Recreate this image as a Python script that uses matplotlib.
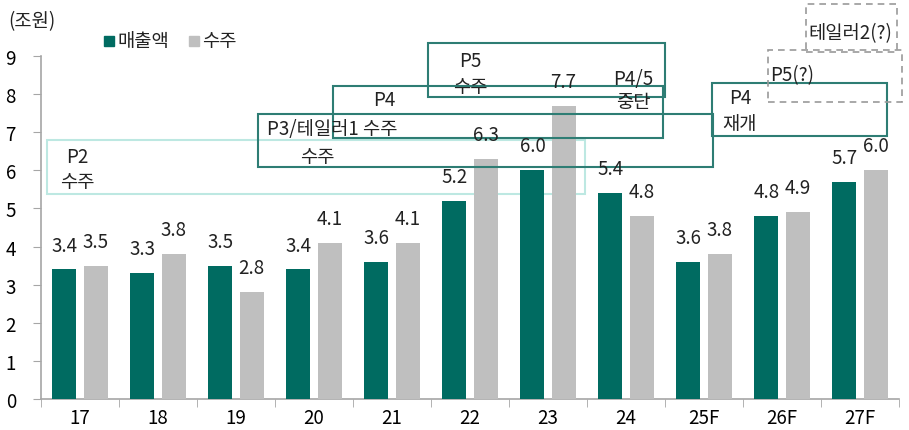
import numpy as np
import matplotlib.pyplot as plt
from matplotlib.patches import Rectangle

plt.rcParams['font.family'] = ['Noto Sans CJK KR', 'DejaVu Sans']

years = ['17', '18', '19', '20', '21', '22', '23', '24', '25F', '26F', '27F']
sales = [3.4, 3.3, 3.5, 3.4, 3.6, 5.2, 6.0, 5.4, 3.6, 4.8, 5.7]
orders = [3.5, 3.8, 2.8, 4.1, 4.1, 6.3, 7.7, 4.8, 3.8, 4.9, 6.0]

GREEN = '#006b61'
GRAY = '#bfbfbf'
TEAL = '#2e7d74'
AXIS = '#a6a6a6'
FS = 13.5

fig = plt.figure(figsize=(9.09, 4.31), dpi=100)
ax = fig.add_axes([41/909, 31/431, 858/909, 343/431])

x = np.arange(len(years))
w = 0.31
b1 = ax.bar(x - 0.2, sales, w, color=GREEN, zorder=3)
b2 = ax.bar(x + 0.2, orders, w, color=GRAY, zorder=3)

for bars, vals in ((b1, sales), (b2, orders)):
    for r, v in zip(bars, vals):
        ax.annotate(f'{v:.1f}', (r.get_x() + r.get_width()/2, v),
                    xytext=(0, 10), textcoords='offset points',
                    ha='center', va='bottom', fontsize=FS, color='#222222', zorder=5)

ax.set_xlim(-0.5, len(years) - 0.5)
ax.set_ylim(0, 9)
ax.set_yticks(range(10))
ax.set_xticks(x)
ax.set_xticklabels(years)
ax.set_xticks(np.arange(-0.5, len(years)), minor=True)
ax.tick_params(axis='x', which='major', length=0, labelsize=FS, pad=6)
ax.tick_params(axis='x', which='minor', length=6, color=AXIS)
ax.tick_params(axis='y', length=6, color=AXIS, labelsize=FS, pad=12)
for s in ('top', 'right'):
    ax.spines[s].set_visible(False)
ax.spines['left'].set_color(AXIS)
ax.spines['bottom'].set_color(AXIS)
ax.spines['left'].set_linewidth(1.2)
ax.spines['bottom'].set_linewidth(1.2)


def box(x0, x1, y0, y1, ec, ls='-', z=4, lw=1.5):
    ax.add_patch(Rectangle((x0, y0), x1 - x0, y1 - y0, fill=False, ec=ec,
                           ls=ls, lw=lw, zorder=z, clip_on=False))


# program milestone boxes
box(-0.42, 6.47, 5.38, 6.8, '#bde8e2', z=2)
box(2.28, 8.12, 6.09, 7.48, TEAL)
box(3.24, 7.47, 6.85, 8.22, TEAL)
box(4.46, 7.50, 7.93, 9.34, TEAL)
box(8.10, 10.35, 6.90, 8.29, TEAL)
box(8.82, 10.54, 7.80, 9.16, '#999999', ls=(0, (4, 3)), lw=1.2)
box(9.31, 10.47, 9.10, 10.37, '#999999', ls=(0, (4, 3)), lw=1.2)

tk = dict(fontsize=FS, color='#222222', ha='center', va='center', zorder=6)
ax.text(-0.04, 6.35, 'P2', **tk)
ax.text(-0.03, 5.72, '수주', **tk)
ax.text(2.4, 7.1, 'P3/테일러1 수주', **dict(tk, ha='left'))
ax.text(3.04, 6.37, '수주', **tk)
ax.text(3.9, 7.87, 'P4', **tk)
ax.text(5.0, 8.87, 'P5', **tk)
ax.text(5.0, 8.2, '수주', **tk)
ax.text(7.09, 8.42, 'P4/5', **tk)
ax.text(7.09, 7.8, '중단', **tk)
ax.text(8.46, 7.92, 'P4', **tk)
ax.text(8.46, 7.24, '재개', **tk)
ax.text(9.13, 8.5, 'P5(?)', **tk)
ax.text(9.87, 9.62, '테일러2(?)', **tk)

fig.text(8/909, 1 - 22/431, '(조원)', fontsize=FS, color='#222222', va='center')
fig.patches.append(Rectangle((104/909, 1 - 47/431), 10/909, 10/431,
                             transform=fig.transFigure, color=GREEN, figure=fig))
fig.text(117/909, 1 - 42/431, '매출액', fontsize=FS, color='#222222', va='center')
fig.patches.append(Rectangle((189/909, 1 - 47/431), 10/909, 10/431,
                             transform=fig.transFigure, color=GRAY, figure=fig))
fig.text(202/909, 1 - 42/431, '수주', fontsize=FS, color='#222222', va='center')

fig.savefig('out.png', dpi=100)
